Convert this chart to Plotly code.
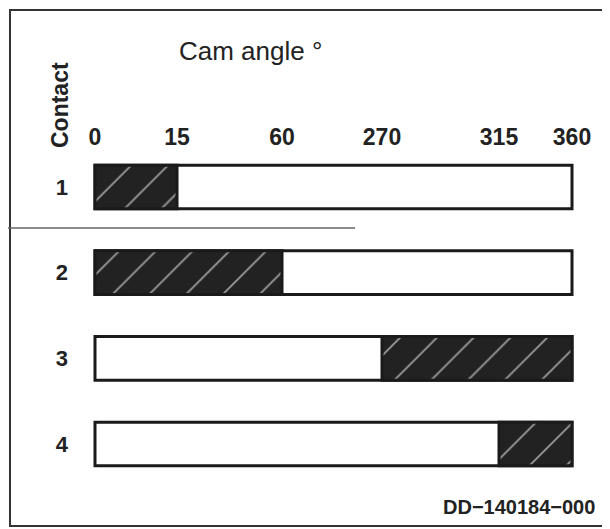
import numpy as np
import plotly.graph_objects as go

# ---- data ----
contacts = ["1", "2", "3", "4"]
on_start = [0, 0, 270, 315]      # cam angle where contact closes (deg)
on_end = [15, 60, 360, 360]      # cam angle where contact opens (deg)
tick_angles = [0, 15, 60, 270, 315, 360]
tick_labels = ["0", "15", "60", "270", "315", "360"]

# ---- schematic (non-linear) angle scale: layout positions of the marked angles ----
SCALE_POS = [95, 177, 282, 382, 499, 572]


def ax(a):
    return np.interp(a, tick_angles, SCALE_POS)


n = len(contacts)
full_base = [float(ax(0))] * n
full_len = [float(ax(360) - ax(0))] * n
on_base = [float(v) for v in ax(on_start)]
on_len = [float(ax(e) - ax(s)) for s, e in zip(on_start, on_end)]

W, H = 610, 529
OFF = 8            # page body margin of the browser
TOP = 151          # top of plotting area (page px)
LEFT = 72          # left of plotting area (page px)
ROW0, ROWSTEP = 187, 85.67


def px(x):
    return (x - OFF) / W


def py(y):
    return 1 - (y - OFF) / H


fig = go.Figure()
fig.add_trace(go.Bar(
    y=contacts, x=full_len, base=full_base, orientation="h", width=0.51,
    marker=dict(color="white", line=dict(color="#1a1a1a", width=3)),
    hoverinfo="skip",
))
fig.add_trace(go.Bar(
    y=contacts, x=on_len, base=on_base, orientation="h", width=0.51,
    marker=dict(color="#222222", line=dict(color="#1a1a1a", width=3),
                pattern=dict(shape="/", fgcolor="#9a9a9a", bgcolor="#222222",
                             size=26, solidity=0.07, fillmode="replace")),
    hoverinfo="skip",
))

font_main = "Liberation Sans, Arial, sans-serif"
fig.update_layout(
    width=W, height=H,
    margin=dict(l=0, r=0, t=0, b=0),
    paper_bgcolor="white", plot_bgcolor="white",
    showlegend=False, barmode="overlay",
    xaxis=dict(domain=[px(LEFT), 1], range=[LEFT, W + OFF], side="top",
               tickvals=[float(v) for v in ax(tick_angles)],
               ticktext=["<b>%s</b>" % t for t in tick_labels],
               showgrid=False, zeroline=False, showline=False, ticks="",
               tickfont=dict(family=font_main, size=23, color="#222"),
               fixedrange=True),
    yaxis=dict(type="category", categoryorder="array", categoryarray=contacts,
               domain=[0, (H - (TOP - OFF)) / H],
               range=[(H + OFF - ROW0) / ROWSTEP, (TOP - ROW0) / ROWSTEP],
               showgrid=False, zeroline=False, showline=False, ticks="",
               tickvals=contacts, ticktext=["<b>%s</b>" % c for c in contacts],
               ticklabelstandoff=3,
               tickfont=dict(family=font_main, size=22, color="#222"),
               fixedrange=True),
    font=dict(family=font_main, color="#222"),
)

fig.add_annotation(text="Cam angle °", x=px(250), y=py(51), xref="paper", yref="paper",
                   xanchor="center", yanchor="middle",
                   showarrow=False, font=dict(size=26, color="#222"))
fig.add_annotation(text="<b>Contact</b>", x=px(60), y=py(105), xref="paper", yref="paper",
                   xanchor="center", yanchor="middle",
                   textangle=-90, showarrow=False, font=dict(size=23, color="#222"))
fig.add_annotation(text="<b>DD−140184−000</b>", x=px(519), y=py(507), xref="paper", yref="paper",
                   xanchor="center", yanchor="middle",
                   showarrow=False, font=dict(size=20, color="#222"))

# outer frame and scan artefact line
fig.add_shape(type="rect", xref="paper", yref="paper",
              x0=px(10), x1=px(603), y0=py(526), y1=py(10),
              line=dict(color="#333", width=2))
fig.add_shape(type="line", xref="paper", yref="paper",
              x0=0, x1=px(355), y0=py(228), y1=py(228),
              line=dict(color="#666", width=1.5))

fig.write_html("out.html")
